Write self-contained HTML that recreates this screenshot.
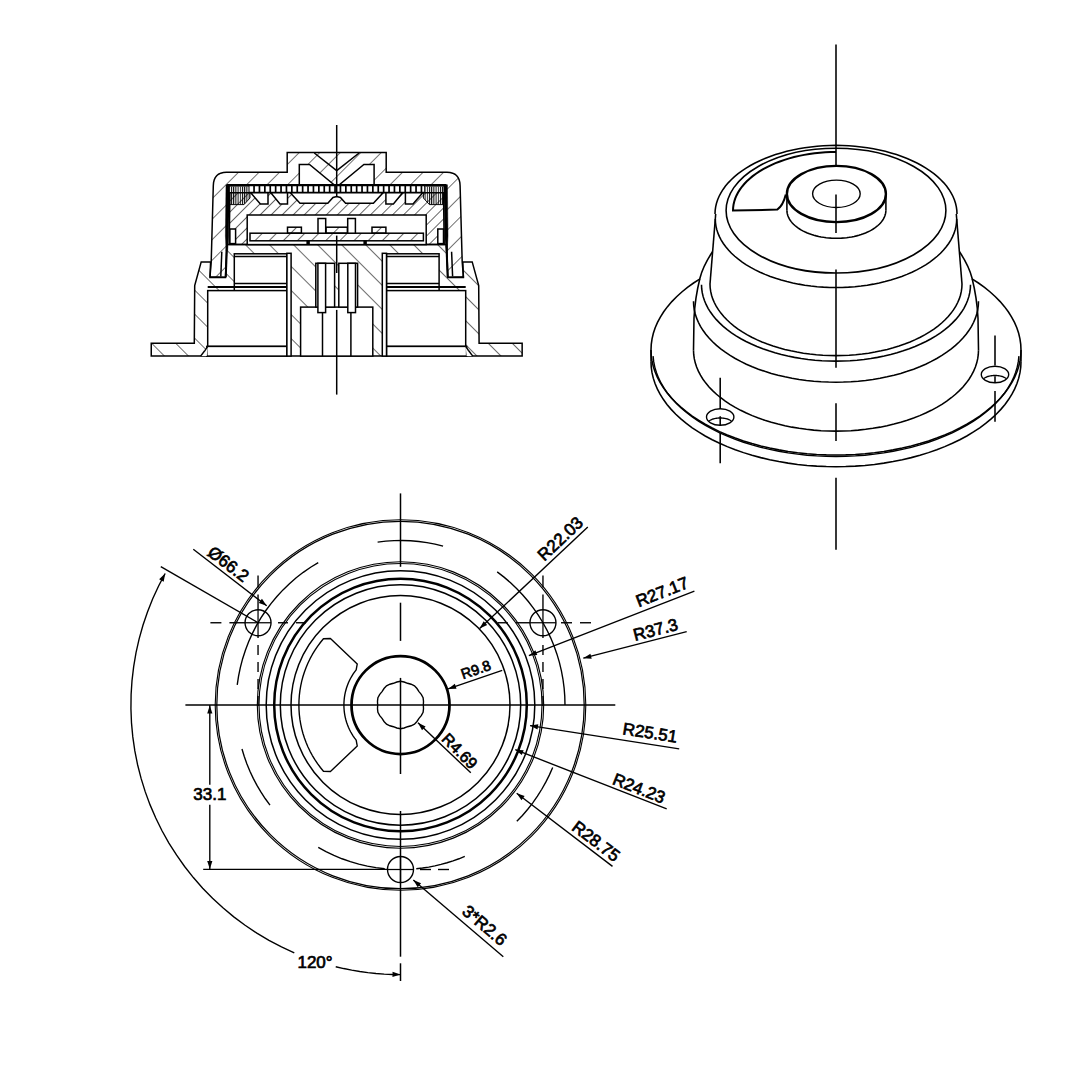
<!DOCTYPE html>
<html><head><meta charset="utf-8"><style>
html,body{margin:0;padding:0;background:#fff;}
svg{display:block;}
text{font-family:"Liberation Sans",sans-serif;fill:#000;stroke:#000;stroke-width:0.7px;}
</style></head><body>
<svg width="1080" height="1080" viewBox="0 0 1080 1080">
<defs>
<pattern id="hs1" patternUnits="userSpaceOnUse" width="10" height="10" patternTransform="rotate(45)"><line x1="0" y1="-2" x2="0" y2="12" stroke="#000" stroke-width="1.2"/></pattern>
<pattern id="hs2" patternUnits="userSpaceOnUse" width="7.8" height="10" patternTransform="rotate(45)"><line x1="0" y1="-2" x2="0" y2="12" stroke="#000" stroke-width="1.2"/></pattern>
<pattern id="hb1" patternUnits="userSpaceOnUse" width="17" height="10" patternTransform="rotate(-45)"><line x1="0" y1="-2" x2="0" y2="12" stroke="#000" stroke-width="1.15"/></pattern>
<pattern id="hb2" patternUnits="userSpaceOnUse" width="11" height="10" patternTransform="rotate(-45)"><line x1="0" y1="-2" x2="0" y2="12" stroke="#000" stroke-width="1.2"/></pattern>
<pattern id="hs3" patternUnits="userSpaceOnUse" width="14.5" height="10" patternTransform="rotate(45)"><line x1="0" y1="-2" x2="0" y2="12" stroke="#000" stroke-width="1.1"/></pattern>
<pattern id="vl" patternUnits="userSpaceOnUse" width="2.2" height="10"><line x1="0.5" y1="-2" x2="0.5" y2="12" stroke="#000" stroke-width="1.0"/></pattern>
</defs>
<rect width="1080" height="1080" fill="#fff"/>
<g stroke="#000" fill="none" stroke-linecap="butt">
<g id="bottom">
<circle cx="400.5" cy="705" r="183.7" fill="none" stroke-width="1.25" />
<circle cx="400.5" cy="705" r="185.3" fill="none" stroke-width="1.12" />
<circle cx="400.5" cy="705" r="141.5" fill="none" stroke-width="1.12" />
<circle cx="400.5" cy="705" r="143.2" fill="none" stroke-width="1.12" />
<circle cx="400.5" cy="705" r="134.3" fill="none" stroke-width="1.5" />
<circle cx="400.5" cy="705" r="126.3" fill="none" stroke-width="2.5" />
<circle cx="400.5" cy="705" r="120.2" fill="none" stroke-width="1.5" />
<circle cx="400.5" cy="705" r="109.5" fill="none" stroke-width="1.5" />
<circle cx="400.5" cy="705" r="49" fill="none" stroke-width="2.75" />
<path d="M423.33,705 L423.51,701.36 L423.1,697.66 L421.26,694.42 L418.97,691.58 L416.98,688.52 L414.47,685.77 L411.08,684.24 L407.56,683.28 L404.14,681.99 L400.5,681.23 L396.86,681.99 L393.44,683.28 L389.92,684.24 L386.53,685.77 L384.02,688.52 L382.03,691.58 L379.74,694.42 L377.9,697.66 L377.49,701.36 L377.67,705 L377.49,708.64 L377.9,712.34 L379.74,715.58 L382.03,718.42 L384.02,721.48 L386.53,724.23 L389.92,725.76 L393.44,726.72 L396.86,728.01 L400.5,728.77 L404.14,728.01 L407.56,726.72 L411.08,725.76 L414.47,724.23 L416.98,721.48 L418.97,718.42 L421.26,715.58 L423.1,712.34 L423.51,708.64 Z" fill="none" stroke-width="1.38" />
<path d="M323.45,638.77 L320.4,642.49 L317.54,646.35 L314.85,650.34 L312.36,654.46 L310.07,658.68 L307.98,663.02 L306.1,667.44 L304.43,671.95 L302.97,676.53 L301.73,681.18 L300.72,685.88 L299.92,690.62 L299.35,695.4 L299.01,700.19 L298.9,705 L299.01,709.81 L299.35,714.6 L299.92,719.38 L300.72,724.12 L301.73,728.82 L302.97,733.47 L304.43,738.05 L306.1,742.56 L307.98,746.98 L310.07,751.32 L312.36,755.54 L314.85,759.66 L317.54,763.65 L320.4,767.51 L323.45,771.23 L330.43,771.5 L357.27,746.03 L356.17,740.19 L354.64,738.17 L353.2,736.09 L351.86,733.94 L350.61,731.74 L349.47,729.48 L348.42,727.17 L347.48,724.82 L346.65,722.43 L345.93,720.01 L345.31,717.55 L344.8,715.07 L344.41,712.57 L344.13,710.06 L343.96,707.53 L343.9,705 L343.96,702.47 L344.13,699.94 L344.41,697.43 L344.8,694.93 L345.31,692.45 L345.93,689.99 L346.65,687.57 L347.48,685.18 L348.42,682.83 L349.47,680.52 L350.61,678.26 L351.86,676.06 L353.2,673.91 L354.64,671.83 L356.17,669.81 L357.27,663.97 L330.43,638.5 Z" fill="none" stroke-width="1.38" stroke-linejoin="round"/>
<path d="M565,705 L564.77,696.39 L564.1,687.81 L562.97,679.27 L561.41,670.8 L559.39,662.42 L556.95,654.17 L554.07,646.05 L550.78,638.09 L547.07,630.32 L542.96,622.75 L538.46,615.41 L533.58,608.31 L528.34,601.48 L522.75,594.93 L516.82,588.68 L510.57,582.75 L504.02,577.16 L497.19,571.92" fill="none" stroke-width="1.38" />
<path d="M443.08,546.11 L435.05,544.17 L426.94,542.64 L418.77,541.52 L410.54,540.81 L402.29,540.51 L394.04,540.63 L385.81,541.16 L377.61,542.1" fill="none" stroke-width="1.38" />
<path d="M318.25,562.54 L310.62,567.22 L303.26,572.31 L296.19,577.8 L289.43,583.66 L282.99,589.88 L276.91,596.44 L271.18,603.32 L265.85,610.51 L260.91,617.97 L256.38,625.69 L252.28,633.65 L248.62,641.81 L245.41,650.17 L242.65,658.68 L240.37,667.34 L238.56,676.1 L237.23,684.95" fill="none" stroke-width="1.38" />
<path d="M241.98,748.96 L244.27,756.52 L246.93,763.95 L249.93,771.25 L253.28,778.4 L256.97,785.38 L261,792.17 L265.34,798.76 L269.99,805.14" fill="none" stroke-width="1.38" />
<path d="M318.25,847.46 L325.98,851.65 L333.92,855.42 L342.05,858.77 L350.35,861.67 L358.79,864.12 L367.35,866.13 L376.01,867.67 L384.73,868.74" fill="none" stroke-width="1.38" />
<path d="M416.27,868.74 L422.51,868.02 L428.71,867.06 L434.88,865.87 L440.99,864.44 L447.05,862.78 L453.04,860.88 L458.95,858.77 L464.78,856.42" fill="none" stroke-width="1.38" />
<path d="M516.82,821.32 L522.43,815.42 L527.75,809.25 L532.76,802.82 L537.44,796.15 L541.78,789.26 L545.78,782.16 L549.42,774.88 L552.7,767.42" fill="none" stroke-width="1.38" />
<circle cx="258.04" cy="622.75" r="13" fill="none" stroke-width="1.38" />
<line x1="245.04" y1="622.75" x2="271.04" y2="622.75" stroke-width="1.25" />
<line x1="258.04" y1="609.75" x2="258.04" y2="635.75" stroke-width="1.25" />
<circle cx="542.96" cy="622.75" r="13" fill="none" stroke-width="1.38" />
<line x1="529.96" y1="622.75" x2="555.96" y2="622.75" stroke-width="1.25" />
<line x1="542.96" y1="609.75" x2="542.96" y2="635.75" stroke-width="1.25" />
<circle cx="400.5" cy="869.5" r="13" fill="none" stroke-width="1.38" />
<line x1="387.5" y1="869.5" x2="413.5" y2="869.5" stroke-width="1.25" />
<line x1="400.5" y1="856.5" x2="400.5" y2="882.5" stroke-width="1.25" />
<line x1="210.4" y1="622.75" x2="221.4" y2="622.75" stroke-width="1.38" />
<line x1="229.4" y1="622.75" x2="245.04" y2="622.75" stroke-width="1.38" />
<line x1="306" y1="622.75" x2="296" y2="622.75" stroke-width="1.38" />
<line x1="288" y1="622.75" x2="278" y2="622.75" stroke-width="1.38" />
<line x1="258.04" y1="575.6" x2="258.04" y2="587.6" stroke-width="1.38" />
<line x1="258.04" y1="594.6" x2="258.04" y2="609.75" stroke-width="1.38" />
<line x1="258.04" y1="706" x2="258.04" y2="696" stroke-width="1.38" />
<line x1="258.04" y1="689" x2="258.04" y2="679" stroke-width="1.38" />
<line x1="258.04" y1="672" x2="258.04" y2="662" stroke-width="1.38" />
<line x1="258.04" y1="655" x2="258.04" y2="645" stroke-width="1.38" />
<line x1="258.04" y1="638" x2="258.04" y2="635.75" stroke-width="1.38" />
<line x1="497.8" y1="622.75" x2="507.8" y2="622.75" stroke-width="1.38" />
<line x1="515.8" y1="622.75" x2="529.96" y2="622.75" stroke-width="1.38" />
<line x1="591" y1="622.75" x2="580" y2="622.75" stroke-width="1.38" />
<line x1="572" y1="622.75" x2="561" y2="622.75" stroke-width="1.38" />
<line x1="542.96" y1="575.6" x2="542.96" y2="587.6" stroke-width="1.38" />
<line x1="542.96" y1="594.6" x2="542.96" y2="609.75" stroke-width="1.38" />
<line x1="542.96" y1="706" x2="542.96" y2="696" stroke-width="1.38" />
<line x1="542.96" y1="689" x2="542.96" y2="679" stroke-width="1.38" />
<line x1="542.96" y1="672" x2="542.96" y2="662" stroke-width="1.38" />
<line x1="542.96" y1="655" x2="542.96" y2="645" stroke-width="1.38" />
<line x1="542.96" y1="638" x2="542.96" y2="635.75" stroke-width="1.38" />
<line x1="449" y1="869.5" x2="438" y2="869.5" stroke-width="1.38" />
<line x1="431" y1="869.5" x2="420" y2="869.5" stroke-width="1.38" />
<line x1="185.4" y1="705" x2="615.3" y2="705" stroke-width="1.5" />
<line x1="400.5" y1="493.4" x2="400.5" y2="566.8" stroke-width="1.5" />
<line x1="400.5" y1="602.7" x2="400.5" y2="640.9" stroke-width="1.5" />
<line x1="400.5" y1="677.9" x2="400.5" y2="774" stroke-width="1.5" />
<line x1="400.5" y1="811" x2="400.5" y2="956.7" stroke-width="1.5" />
<line x1="400.5" y1="963.3" x2="400.5" y2="981" stroke-width="1.5" />
<line x1="203.2" y1="869.4" x2="387.5" y2="869.4" stroke-width="1.38" />
<line x1="209.8" y1="705" x2="209.8" y2="784.7" stroke-width="1.38" />
<line x1="209.8" y1="804.8" x2="209.8" y2="869.4" stroke-width="1.38" />
<path d="M209.8,705.5 L212.4,713.5 L207.2,713.5 Z" fill="#000" stroke="none"/>
<path d="M209.8,868.9 L207.2,860.9 L212.4,860.9 Z" fill="#000" stroke="none"/>
<text transform="translate(209.8,794.7) rotate(0)" font-size="17" text-anchor="middle" dominant-baseline="central" font-weight="normal" >33.1</text>
<path d="M165.16,573.47 L158.6,585.97 L152.7,598.79 L147.48,611.91 L142.96,625.28 L139.14,638.87 L136.03,652.63 L133.66,666.55 L132.01,680.57 L131.1,694.65 L130.93,708.76 L131.49,722.87 L132.8,736.92 L134.83,750.89 L137.6,764.73 L141.09,778.41 L145.28,791.88 L150.18,805.12 L155.76,818.08 L162.02,830.74 L168.92,843.05 L176.47,854.98 L184.62,866.5 L193.37,877.57 L202.69,888.18 L212.54,898.28 L222.92,907.85 L233.78,916.87 L245.09,925.3 L256.84,933.13 L268.97,940.34 L281.47,946.9 L294.29,952.8" fill="none" stroke-width="1.38" />
<path d="M335.73,966.71 L343.7,968.55 L351.72,970.15 L359.78,971.51 L367.88,972.62 L376.01,973.49 L384.16,974.1 L392.33,974.48 L400.5,974.6" fill="none" stroke-width="1.38" />
<path d="M165.16,573.47 L163.69,581.75 L159.1,579.31 Z" fill="#000" stroke="none"/>
<path d="M400.5,974.6 L392.46,977.06 L392.55,971.86 Z" fill="#000" stroke="none"/>
<line x1="160.8" y1="566.7" x2="258.04" y2="622.75" stroke-width="1.38" />
<text transform="translate(315,962) rotate(0)" font-size="17" text-anchor="middle" dominant-baseline="central" font-weight="normal" >120°</text>
<line x1="587.8" y1="527.1" x2="479.6" y2="628.6" stroke-width="1.38" />
<path d="M479.6,628.6 L483.66,621.23 L487.21,625.02 Z" fill="#000" stroke="none"/>
<line x1="694.4" y1="591.1" x2="528.9" y2="655.6" stroke-width="1.38" />
<path d="M528.9,655.6 L535.41,650.27 L537.3,655.12 Z" fill="#000" stroke="none"/>
<line x1="686.7" y1="631.6" x2="583.3" y2="658.2" stroke-width="1.38" />
<path d="M583.3,658.2 L590.4,653.69 L591.7,658.72 Z" fill="#000" stroke="none"/>
<line x1="502.2" y1="670.4" x2="448.1" y2="688.9" stroke-width="1.38" />
<path d="M448.1,688.9 L454.83,683.85 L456.51,688.77 Z" fill="#000" stroke="none"/>
<line x1="470.8" y1="772.8" x2="418" y2="722.8" stroke-width="1.38" />
<path d="M418,722.8 L425.6,726.41 L422.02,730.19 Z" fill="#000" stroke="none"/>
<line x1="679.2" y1="748.9" x2="530" y2="725.6" stroke-width="1.38" />
<path d="M530,725.6 L538.31,724.27 L537.5,729.4 Z" fill="#000" stroke="none"/>
<line x1="666.7" y1="808.9" x2="515.3" y2="749.7" stroke-width="1.38" />
<path d="M515.3,749.7 L523.7,750.19 L521.8,755.03 Z" fill="#000" stroke="none"/>
<line x1="612.5" y1="866.4" x2="516.7" y2="793.3" stroke-width="1.38" />
<path d="M516.7,793.3 L524.64,796.09 L521.48,800.22 Z" fill="#000" stroke="none"/>
<line x1="503.3" y1="956.7" x2="413.3" y2="880" stroke-width="1.38" />
<path d="M413.3,880 L421.08,883.21 L417.7,887.17 Z" fill="#000" stroke="none"/>
<line x1="193.3" y1="549.2" x2="266.7" y2="605.8" stroke-width="1.38" />
<path d="M266.7,605.8 L258.78,602.97 L261.95,598.86 Z" fill="#000" stroke="none"/>
<text transform="translate(560.5,538.9) rotate(-43.3)" font-size="17" text-anchor="middle" dominant-baseline="central" font-weight="normal" >R22.03</text>
<text transform="translate(662.2,592.2) rotate(-21.3)" font-size="17" text-anchor="middle" dominant-baseline="central" font-weight="normal" >R27.17</text>
<text transform="translate(655.6,630) rotate(-14.4)" font-size="17" text-anchor="middle" dominant-baseline="central" font-weight="normal" >R37.3</text>
<text transform="translate(475.9,669.6) rotate(-18.7)" font-size="14.5" text-anchor="middle" dominant-baseline="central" font-weight="normal" >R9.8</text>
<text transform="translate(459.7,751.1) rotate(45.5)" font-size="16" text-anchor="middle" dominant-baseline="central" font-weight="normal" >R4.69</text>
<text transform="translate(650,733) rotate(8.9)" font-size="17" text-anchor="middle" dominant-baseline="central" font-weight="normal" >R25.51</text>
<text transform="translate(638.9,788.6) rotate(21.4)" font-size="17" text-anchor="middle" dominant-baseline="central" font-weight="normal" >R24.23</text>
<text transform="translate(595.8,841.4) rotate(37.3)" font-size="17" text-anchor="middle" dominant-baseline="central" font-weight="normal" >R28.75</text>
<text transform="translate(484.4,925.6) rotate(40.4)" font-size="17" text-anchor="middle" dominant-baseline="central" font-weight="normal" >3*R2.6</text>
<text transform="translate(228.3,564.2) rotate(37.7)" font-size="17" text-anchor="middle" dominant-baseline="central" font-weight="normal" >Ø66.2</text>
</g>
<g id="iso">
<path d="M651,361.7 L651.25,367.2 L652.01,372.68 L653.28,378.13 L655.04,383.53 L657.3,388.88 L660.05,394.15 L663.29,399.33 L666.99,404.41 L671.16,409.37 L675.79,414.2 L680.85,418.89 L686.33,423.42 L692.23,427.78 L698.52,431.96 L705.19,435.95 L712.21,439.73 L719.58,443.3 L727.26,446.65 L735.24,449.76 L743.5,452.63 L752.01,455.26 L760.75,457.62 L769.7,459.73 L778.83,461.56 L788.12,463.12 L797.54,464.41 L807.06,465.41 L816.66,466.12 L826.32,466.56 L836,466.7 L845.68,466.56 L855.34,466.12 L864.94,465.41 L874.46,464.41 L883.88,463.12 L893.17,461.56 L902.3,459.73 L911.25,457.62 L919.99,455.26 L928.5,452.63 L936.76,449.76 L944.74,446.65 L952.42,443.3 L959.79,439.73 L966.81,435.95 L973.48,431.96 L979.77,427.78 L985.67,423.42 L991.15,418.89 L996.21,414.2 L1000.84,409.37 L1005.01,404.41 L1008.71,399.33 L1011.95,394.15 L1014.7,388.88 L1016.96,383.53 L1018.72,378.13 L1019.99,372.68 L1020.75,367.2 L1021,361.7" fill="none" stroke-width="1.56" />
<line x1="651" y1="350" x2="651" y2="361.7" stroke-width="1.56" />
<line x1="1021" y1="350" x2="1021" y2="361.7" stroke-width="1.56" />
<path d="M651,350 L651.25,355.5 L652.01,360.98 L653.28,366.43 L655.04,371.83 L657.3,377.18 L660.05,382.45 L663.29,387.63 L666.99,392.71 L671.16,397.67 L675.79,402.5 L680.85,407.19 L686.33,411.72 L692.23,416.08 L698.52,420.26 L705.19,424.25 L712.21,428.03 L719.58,431.6 L727.26,434.95 L735.24,438.06 L743.5,440.93 L752.01,443.56 L760.75,445.92 L769.7,448.03 L778.83,449.86 L788.12,451.42 L797.54,452.71 L807.06,453.71 L816.66,454.42 L826.32,454.86 L836,455 L845.68,454.86 L855.34,454.42 L864.94,453.71 L874.46,452.71 L883.88,451.42 L893.17,449.86 L902.3,448.03 L911.25,445.92 L919.99,443.56 L928.5,440.93 L936.76,438.06 L944.74,434.95 L952.42,431.6 L959.79,428.03 L966.81,424.25 L973.48,420.26 L979.77,416.08 L985.67,411.72 L991.15,407.19 L996.21,402.5 L1000.84,397.67 L1005.01,392.71 L1008.71,387.63 L1011.95,382.45 L1014.7,377.18 L1016.96,371.83 L1018.72,366.43 L1019.99,360.98 L1020.75,355.5 L1021,350" fill="none" stroke-width="1.56" />
<path d="M700.04,278.79 L693.56,283 L687.48,287.4 L681.82,291.97 L676.6,296.71 L671.83,301.6 L667.52,306.62 L663.7,311.77 L660.36,317.03 L657.51,322.38 L655.18,327.81 L653.35,333.3 L652.05,338.84 L651.26,344.41 L651,350" fill="none" stroke-width="1.56" />
<path d="M1021,350 L1020.74,344.41 L1019.95,338.84 L1018.65,333.3 L1016.82,327.81 L1014.49,322.38 L1011.64,317.03 L1008.3,311.77 L1004.48,306.62 L1000.17,301.6 L995.4,296.71 L990.18,291.97 L984.52,287.4 L978.44,283 L971.96,278.79" fill="none" stroke-width="1.56" />
<path d="M653.11,356.13 L653.71,361.63 L654.81,367.1 L656.43,372.53 L658.54,377.9 L661.16,383.21 L664.26,388.42 L667.85,393.54 L671.91,398.54 L676.43,403.41 L681.39,408.14 L686.79,412.71 L692.61,417.12 L698.83,421.34 L705.44,425.37 L712.41,429.2 L719.73,432.81 L727.37,436.19 L735.32,439.34 L743.55,442.25 L752.04,444.91 L760.76,447.3 L769.7,449.43 L778.82,451.29 L788.1,452.87 L797.52,454.18 L807.05,455.19 L816.65,455.92 L826.31,456.35 L836,456.5 L845.69,456.35 L855.35,455.92 L864.95,455.19 L874.48,454.18 L883.9,452.87 L893.18,451.29 L902.3,449.43 L911.24,447.3 L919.96,444.91 L928.45,442.25 L936.68,439.34 L944.63,436.19 L952.27,432.81 L959.59,429.2 L966.56,425.37 L973.17,421.34 L979.39,417.12 L985.21,412.71 L990.61,408.14 L995.57,403.41 L1000.09,398.54 L1004.15,393.54 L1007.74,388.42 L1010.84,383.21 L1013.46,377.9 L1015.57,372.53 L1017.19,367.1 L1018.29,361.63 L1018.89,356.13" fill="none" stroke-width="1.38" />
<path d="M693.5,350.2 L693.7,354.43 L694.28,358.66 L695.25,362.86 L696.61,367.02 L698.36,371.14 L700.47,375.2 L702.96,379.19 L705.82,383.1 L709.03,386.93 L712.59,390.65 L716.49,394.26 L720.72,397.75 L725.26,401.11 L730.1,404.33 L735.24,407.4 L740.65,410.32 L746.32,413.07 L752.24,415.65 L758.39,418.05 L764.75,420.26 L771.31,422.28 L778.04,424.11 L784.93,425.73 L791.97,427.14 L799.12,428.34 L806.37,429.33 L813.71,430.1 L821.1,430.66 L828.54,430.99 L836,431.1 L843.46,430.99 L850.9,430.66 L858.29,430.1 L865.63,429.33 L872.88,428.34 L880.03,427.14 L887.07,425.73 L893.96,424.11 L900.69,422.28 L907.25,420.26 L913.61,418.05 L919.76,415.65 L925.68,413.07 L931.35,410.32 L936.76,407.4 L941.9,404.33 L946.74,401.11 L951.28,397.75 L955.51,394.26 L959.41,390.65 L962.97,386.93 L966.18,383.1 L969.04,379.19 L971.53,375.2 L973.64,371.14 L975.39,367.02 L976.75,362.86 L977.72,358.66 L978.3,354.43 L978.5,350.2" fill="none" stroke-width="1.56" />
<path d="M712.5,251.7 Q703,266 700,278 Q695,298 694,318 L693.5,350.2" fill="none" stroke-width="1.5625"/>
<path d="M959.5,251.7 Q969,266 972,278 Q977,298 978,318 L978.5,350.2" fill="none" stroke-width="1.5625"/>
<path d="M693.5,301.3 L693.7,305.53 L694.28,309.76 L695.25,313.96 L696.61,318.12 L698.36,322.24 L700.47,326.3 L702.96,330.29 L705.82,334.2 L709.03,338.03 L712.59,341.75 L716.49,345.36 L720.72,348.85 L725.26,352.21 L730.1,355.43 L735.24,358.5 L740.65,361.42 L746.32,364.17 L752.24,366.75 L758.39,369.15 L764.75,371.36 L771.31,373.38 L778.04,375.21 L784.93,376.83 L791.97,378.24 L799.12,379.44 L806.37,380.43 L813.71,381.2 L821.1,381.76 L828.54,382.09 L836,382.2 L843.46,382.09 L850.9,381.76 L858.29,381.2 L865.63,380.43 L872.88,379.44 L880.03,378.24 L887.07,376.83 L893.96,375.21 L900.69,373.38 L907.25,371.36 L913.61,369.15 L919.76,366.75 L925.68,364.17 L931.35,361.42 L936.76,358.5 L941.9,355.43 L946.74,352.21 L951.28,348.85 L955.51,345.36 L959.41,341.75 L962.97,338.03 L966.18,334.2 L969.04,330.29 L971.53,326.3 L973.64,322.24 L975.39,318.12 L976.75,313.96 L977.72,309.76 L978.3,305.53 L978.5,301.3" fill="none" stroke-width="1.56" />
<path d="M701.5,284.7 L701.68,288.7 L702.24,292.69 L703.16,296.65 L704.44,300.58 L706.08,304.47 L708.08,308.31 L710.43,312.08 L713.13,315.77 L716.16,319.38 L719.52,322.9 L723.2,326.31 L727.19,329.61 L731.47,332.78 L736.05,335.82 L740.89,338.72 L746,341.48 L751.36,344.07 L756.94,346.51 L762.75,348.77 L768.75,350.86 L774.94,352.77 L781.29,354.49 L787.8,356.03 L794.44,357.36 L801.19,358.5 L808.04,359.43 L814.96,360.16 L821.94,360.68 L828.96,361 L836,361.1 L843.04,361 L850.06,360.68 L857.04,360.16 L863.96,359.43 L870.81,358.5 L877.56,357.36 L884.2,356.03 L890.71,354.49 L897.06,352.77 L903.25,350.86 L909.25,348.77 L915.06,346.51 L920.64,344.07 L926,341.48 L931.11,338.72 L935.95,335.82 L940.53,332.78 L944.81,329.61 L948.8,326.31 L952.48,322.9 L955.84,319.38 L958.87,315.77 L961.57,312.08 L963.92,308.31 L965.92,304.47 L967.56,300.58 L968.84,296.65 L969.76,292.69 L970.32,288.7 L970.5,284.7" fill="none" stroke-width="1.56" />
<path d="M710,284 L710.17,287.75 L710.69,291.48 L711.55,295.2 L712.75,298.89 L714.29,302.53 L716.17,306.13 L718.37,309.66 L720.89,313.12 L723.73,316.51 L726.88,319.8 L730.33,323 L734.06,326.09 L738.08,329.06 L742.36,331.91 L746.9,334.63 L751.69,337.21 L756.71,339.64 L761.94,341.93 L767.38,344.05 L773,346.01 L778.8,347.8 L784.75,349.41 L790.85,350.84 L797.06,352.1 L803.39,353.16 L809.8,354.04 L816.29,354.72 L822.83,355.21 L829.41,355.5 L836,355.6 L842.59,355.5 L849.17,355.21 L855.71,354.72 L862.2,354.04 L868.61,353.16 L874.94,352.1 L881.15,350.84 L887.25,349.41 L893.2,347.8 L899,346.01 L904.62,344.05 L910.06,341.93 L915.29,339.64 L920.31,337.21 L925.1,334.63 L929.64,331.91 L933.92,329.06 L937.94,326.09 L941.67,323 L945.12,319.8 L948.27,316.51 L951.11,313.12 L953.63,309.66 L955.83,306.13 L957.71,302.53 L959.25,298.89 L960.45,295.2 L961.31,291.48 L961.83,287.75 L962,284" fill="none" stroke-width="1.56" />
<line x1="715.7" y1="214" x2="710" y2="284" stroke-width="1.56" />
<line x1="956.3" y1="214" x2="962" y2="284" stroke-width="1.56" />
<path d="M957,214 L956.83,210.41 L956.34,206.83 L955.51,203.27 L954.36,199.74 L952.88,196.25 L951.08,192.8 L948.96,189.42 L946.54,186.1 L943.81,182.86 L940.79,179.7 L937.48,176.64 L933.89,173.68 L930.03,170.83 L925.92,168.1 L921.56,165.49 L916.96,163.02 L912.15,160.69 L907.12,158.5 L901.9,156.47 L896.5,154.59 L890.93,152.88 L885.22,151.33 L879.36,149.96 L873.39,148.76 L867.32,147.74 L861.16,146.9 L854.93,146.24 L848.65,145.78 L842.33,145.49 L836,145.4 L829.67,145.49 L823.35,145.78 L817.07,146.24 L810.84,146.9 L804.68,147.74 L798.61,148.76 L792.64,149.96 L786.78,151.33 L781.07,152.88 L775.5,154.59 L770.1,156.47 L764.88,158.5 L759.85,160.69 L755.04,163.02 L750.44,165.49 L746.08,168.1 L741.97,170.83 L738.11,173.68 L734.52,176.64 L731.21,179.7 L728.19,182.86 L725.46,186.1 L723.04,189.42 L720.92,192.8 L719.12,196.25 L717.64,199.74 L716.49,203.27 L715.66,206.83 L715.17,210.41 L715,214" fill="none" stroke-width="1.56" />
<path d="M715.3,218.9 L715.47,222.49 L715.96,226.07 L716.79,229.63 L717.94,233.16 L719.41,236.65 L721.21,240.1 L723.32,243.48 L725.74,246.8 L728.46,250.04 L731.47,253.2 L734.77,256.26 L738.35,259.22 L742.2,262.07 L746.3,264.8 L750.65,267.41 L755.24,269.88 L760.04,272.21 L765.05,274.4 L770.26,276.43 L775.65,278.31 L781.2,280.02 L786.91,281.57 L792.74,282.94 L798.7,284.14 L804.76,285.16 L810.91,286 L817.12,286.66 L823.38,287.12 L829.68,287.41 L836,287.5 L842.32,287.41 L848.62,287.12 L854.88,286.66 L861.09,286 L867.24,285.16 L873.3,284.14 L879.26,282.94 L885.09,281.57 L890.8,280.02 L896.35,278.31 L901.74,276.43 L906.95,274.4 L911.96,272.21 L916.76,269.88 L921.35,267.41 L925.7,264.8 L929.8,262.07 L933.65,259.22 L937.23,256.26 L940.53,253.2 L943.54,250.04 L946.26,246.8 L948.68,243.48 L950.79,240.1 L952.59,236.65 L954.06,233.16 L955.21,229.63 L956.04,226.07 L956.53,222.49 L956.7,218.9" fill="none" stroke-width="1.56" />
<ellipse cx="836" cy="210.6" rx="109.9" ry="62.4" fill="none" stroke-width="1.56" />
<path d="M836,152 L830.61,152.08 L825.23,152.32 L819.89,152.72 L814.59,153.28 L809.34,154 L804.17,154.87 L799.09,155.89 L794.11,157.07 L789.24,158.39 L784.5,159.85 L779.9,161.45 L775.46,163.19 L771.18,165.06 L767.08,167.05 L763.17,169.16 L759.46,171.39 L755.95,173.72 L752.67,176.16 L749.62,178.68 L746.8,181.3 L744.23,184 L741.9,186.77 L739.84,189.6 L738.04,192.49 L736.51,195.43 L735.25,198.42 L734.27,201.43 L733.56,204.47 L733.14,207.53 L733,210.6 L777.2,209.6 Q783,206 785.8,194.6" fill="none" stroke-width="2.0"/>
<ellipse cx="836.4" cy="194" rx="49.5" ry="28.1" fill="#fff" stroke-width="2.38" />
<path d="M786.9,210.2 L786.97,211.67 L787.17,213.14 L787.51,214.6 L787.98,216.04 L788.59,217.47 L789.32,218.88 L790.19,220.27 L791.18,221.63 L792.3,222.96 L793.53,224.25 L794.89,225.5 L796.35,226.72 L797.93,227.88 L799.61,229 L801.4,230.07 L803.28,231.08 L805.25,232.04 L807.3,232.93 L809.44,233.77 L811.65,234.54 L813.93,235.24 L816.27,235.87 L818.66,236.43 L821.1,236.92 L823.59,237.34 L826.11,237.69 L828.66,237.95 L831.23,238.15 L833.81,238.26 L836.4,238.3 L838.99,238.26 L841.57,238.15 L844.14,237.95 L846.69,237.69 L849.21,237.34 L851.7,236.92 L854.14,236.43 L856.53,235.87 L858.87,235.24 L861.15,234.54 L863.36,233.77 L865.5,232.93 L867.55,232.04 L869.52,231.08 L871.4,230.07 L873.19,229 L874.87,227.88 L876.45,226.72 L877.91,225.5 L879.27,224.25 L880.5,222.96 L881.62,221.63 L882.61,220.27 L883.48,218.88 L884.21,217.47 L884.82,216.04 L885.29,214.6 L885.63,213.14 L885.83,211.67 L885.9,210.2" fill="none" stroke-width="1.56" />
<line x1="786.9" y1="194" x2="786.9" y2="210.2" stroke-width="1.56" />
<line x1="885.9" y1="194" x2="885.9" y2="210.2" stroke-width="1.56" />
<ellipse cx="836.4" cy="193.8" rx="23.8" ry="13.7" fill="none" stroke-width="1.38" />
<ellipse cx="720.2" cy="417" rx="13.7" ry="8.2" fill="none" stroke-width="1.38" />
<path d="M731.24,420.97 L730.91,420.71 L730.56,420.46 L730.17,420.22 L729.76,419.99 L729.32,419.77 L728.86,419.56 L728.37,419.36 L727.86,419.18 L727.33,419 L726.78,418.84 L726.21,418.69 L725.62,418.55 L725.02,418.43 L724.41,418.33 L723.78,418.23 L723.14,418.16 L722.5,418.1 L721.84,418.05 L721.19,418.02 L720.53,418 L719.87,418 L719.21,418.02 L718.56,418.05 L717.9,418.1 L717.26,418.16 L716.62,418.23 L715.99,418.33 L715.38,418.43 L714.78,418.55 L714.19,418.69 L713.62,418.84 L713.07,419 L712.54,419.18 L712.03,419.36 L711.54,419.56 L711.08,419.77 L710.64,419.99 L710.23,420.22 L709.84,420.46 L709.49,420.71 L709.16,420.97" fill="none" stroke-width="1.38" />
<ellipse cx="995" cy="374.5" rx="13.7" ry="8.2" fill="none" stroke-width="1.38" />
<path d="M1006.04,378.47 L1005.71,378.21 L1005.36,377.96 L1004.97,377.72 L1004.56,377.49 L1004.12,377.27 L1003.66,377.06 L1003.17,376.86 L1002.66,376.68 L1002.13,376.5 L1001.58,376.34 L1001.01,376.19 L1000.42,376.05 L999.82,375.93 L999.21,375.83 L998.58,375.73 L997.94,375.66 L997.3,375.6 L996.64,375.55 L995.99,375.52 L995.33,375.5 L994.67,375.5 L994.01,375.52 L993.36,375.55 L992.7,375.6 L992.06,375.66 L991.42,375.73 L990.79,375.83 L990.18,375.93 L989.58,376.05 L988.99,376.19 L988.42,376.34 L987.87,376.5 L987.34,376.68 L986.83,376.86 L986.34,377.06 L985.88,377.27 L985.44,377.49 L985.03,377.72 L984.64,377.96 L984.29,378.21 L983.96,378.47" fill="none" stroke-width="1.38" />
<line x1="836" y1="44.4" x2="836" y2="165.4" stroke-width="1.56" />
<line x1="836" y1="194.6" x2="836" y2="233.1" stroke-width="1.56" />
<line x1="836" y1="269.4" x2="836" y2="367.8" stroke-width="1.56" />
<line x1="836" y1="403.3" x2="836" y2="441.1" stroke-width="1.56" />
<line x1="836" y1="477.8" x2="836" y2="549.8" stroke-width="1.56" />
<line x1="720.2" y1="377.8" x2="720.2" y2="409" stroke-width="1.56" />
<line x1="720.2" y1="416.3" x2="720.2" y2="426" stroke-width="1.56" />
<line x1="720.2" y1="433" x2="720.2" y2="463.3" stroke-width="1.56" />
<line x1="995" y1="335.6" x2="995" y2="365.6" stroke-width="1.56" />
<line x1="995" y1="376.3" x2="995" y2="382.3" stroke-width="1.56" />
<line x1="995" y1="391.1" x2="995" y2="421.7" stroke-width="1.56" />
</g>
<g id="section">
<path d="M226.8,244.6 L225.5,277.5 L210,277.5 L210.6,261.9 L201.2,261.9 L194.7,285.5 L194.3,343.2 L151.25,343.2 L151.25,356.1 L522.15,356.1 L522.15,343.2 L479.1,343.2 L478.7,285.5 L472.2,261.9 L462.8,261.9 L463.4,277.5 L447.9,277.5 L446.6,244.6 Z" fill="url(#hb1)" stroke-width="1.5" />
<rect x="234.3" y="253.8" width="52.6" height="37" fill="#fff" stroke-width="1.5" />
<line x1="234.3" y1="256.6" x2="286.9" y2="256.6" stroke-width="1.5" />
<line x1="234.3" y1="283.4" x2="286.9" y2="283.4" stroke-width="1.5" />
<line x1="207.7" y1="287" x2="286.9" y2="287" stroke-width="1.8" />
<rect x="207.7" y="290.6" width="79.2" height="55.8" fill="#fff" stroke-width="1.5" />
<rect x="206.8" y="346.4" width="80.1" height="9.7" fill="#fff" stroke-width="1.5" />
<path d="M207.7,346.4 L204.7,350.8 L200.6,356.1 L206.8,356.1 Z" fill="#fff" stroke-width="0" />
<line x1="207.7" y1="346.4" x2="204.7" y2="350.8" stroke-width="1.5" />
<line x1="204.7" y1="350.8" x2="200.6" y2="356.1" stroke-width="1.5" />
<rect x="286.9" y="253.3" width="4.2" height="102.8" fill="#fff" stroke-width="1.5" />
<rect x="386.5" y="253.8" width="52.6" height="37" fill="#fff" stroke-width="1.5" />
<line x1="439.1" y1="256.6" x2="386.5" y2="256.6" stroke-width="1.5" />
<line x1="439.1" y1="283.4" x2="386.5" y2="283.4" stroke-width="1.5" />
<line x1="465.7" y1="287" x2="386.5" y2="287" stroke-width="1.8" />
<rect x="386.5" y="290.6" width="79.2" height="55.8" fill="#fff" stroke-width="1.5" />
<rect x="386.5" y="346.4" width="80.1" height="9.7" fill="#fff" stroke-width="1.5" />
<path d="M465.7,346.4 L468.7,350.8 L472.8,356.1 L466.6,356.1 Z" fill="#fff" stroke-width="0" />
<line x1="465.7" y1="346.4" x2="468.7" y2="350.8" stroke-width="1.5" />
<line x1="468.7" y1="350.8" x2="472.8" y2="356.1" stroke-width="1.5" />
<rect x="382.3" y="253.3" width="4.2" height="102.8" fill="#fff" stroke-width="1.5" />
<rect x="300.6" y="307.1" width="72.2" height="49" fill="#fff" stroke-width="1.5" />
<line x1="322.5" y1="312.6" x2="322.5" y2="356.1" stroke-width="1.5" />
<line x1="350.9" y1="312.6" x2="350.9" y2="356.1" stroke-width="1.5" />
<rect x="315.8" y="263.3" width="18.8" height="43.8" fill="#fff" stroke-width="1.5" />
<rect x="338.8" y="263.3" width="18.8" height="43.8" fill="#fff" stroke-width="1.5" />
<rect x="317.9" y="263.3" width="7.7" height="49.3" fill="#fff" stroke-width="1.5" />
<rect x="347.8" y="263.3" width="7.7" height="49.3" fill="#fff" stroke-width="1.5" />
<path d="M336.7,152.5 L287.2,152.5 L287.2,172.2 L226.4,172.2 L223.37,172.48 L220.74,173.16 L218.51,174.25 L216.68,175.75 L215.24,177.65 L214.19,179.96 L213.55,182.68 L213.3,185.8 L211.2,262 L210,276.8 L225.5,277.2 L226.8,240 L227.8,184.7 L445.6,184.7 L446.6,240 L447.9,277.2 L463.4,276.8 L462.2,262 L460.1,185.8 L459.85,182.68 L459.21,179.96 L458.16,177.65 L456.72,175.75 L454.89,174.25 L452.66,173.16 L450.03,172.48 L447,172.2 L386.2,172.2 L386.2,152.5 L336.7,152.5 Z" fill="url(#hs3)" stroke-width="1.5" />
<path d="M299.3,164.4 L309.5,164.4 L334,184.7 L299.3,184.7 Z" fill="#fff" stroke-width="1.5" />
<path d="M374.1,164.4 L363.9,164.4 L339.4,184.7 L374.1,184.7 Z" fill="#fff" stroke-width="1.5" />
<line x1="314.3" y1="153" x2="336.7" y2="170.6" stroke-width="1.5" />
<line x1="359.1" y1="153" x2="336.7" y2="170.6" stroke-width="1.5" />
<path d="M229.9,192.8 L443.5,192.8 L444.2,244.6 L229.2,244.6 Z" fill="url(#hs2)" stroke-width="1.5" />
<path d="M227.8,184.7 L250,184.7 L250,198 L244,204.6 L229.9,204.6 Z" fill="url(#vl)" stroke-width="0.96" />
<path d="M445.6,184.7 L423.4,184.7 L423.4,198 L429.4,204.6 L443.5,204.6 Z" fill="url(#vl)" stroke-width="0.96" />
<path d="M250.7,192.8 L268,192.8 L268,203.9 L260.4,203.9 Z" fill="#fff" stroke-width="1.5" />
<path d="M422.7,192.8 L405.4,192.8 L405.4,203.9 L413,203.9 Z" fill="#fff" stroke-width="1.5" />
<path d="M270.8,192.8 L287.5,192.8 L287.5,203.9 L280,203.9 Z" fill="#fff" stroke-width="1.5" />
<path d="M402.6,192.8 L385.9,192.8 L385.9,203.9 L393.4,203.9 Z" fill="#fff" stroke-width="1.5" />
<path d="M290.3,192.8 L300,203.2 L327.8,203.2 L333,197.5 L336.7,196.5 L336.7,196.5 L340.4,197.5 L345.6,203.2 L373.4,203.2 L383.1,192.8 Z" fill="#fff" stroke-width="1.5" />
<rect x="247.2" y="215" width="179" height="29.6" fill="#fff" stroke-width="1.5" />
<rect x="250" y="233.2" width="173.4" height="7.6" fill="url(#hs1)" stroke-width="1.5" />
<rect x="287.5" y="227.2" width="13.9" height="6" fill="url(#hs1)" stroke-width="1.5" />
<rect x="372" y="227.2" width="13.9" height="6" fill="url(#hs1)" stroke-width="1.5" />
<rect x="326" y="227.2" width="21.4" height="6" fill="url(#hs1)" stroke-width="1.5" />
<rect x="318" y="218.5" width="7.7" height="14.7" fill="#fff" stroke-width="1.5" />
<rect x="347.7" y="218.5" width="7.7" height="14.7" fill="#fff" stroke-width="1.5" />
<rect x="306.8" y="240.8" width="2.8" height="3.8" fill="#000" stroke-width="0.6" />
<rect x="363.8" y="240.8" width="2.8" height="3.8" fill="#000" stroke-width="0.6" />
<rect x="229.9" y="229" width="5.7" height="14.6" fill="#fff" stroke-width="1.5" />
<rect x="437.8" y="229" width="5.7" height="14.6" fill="#fff" stroke-width="1.5" />
<rect x="227.8" y="184.7" width="217.8" height="8.1" fill="#000" stroke-width="0" />
<line x1="249.5" y1="188.9" x2="424" y2="188.9" stroke-width="5.52" stroke="#fff" stroke-dasharray="3.7 1.7"/>
<rect x="229.5" y="186.6" width="19.1" height="5.4" fill="#fff" stroke-width="0" />
<rect x="424.8" y="186.6" width="19.1" height="5.4" fill="#fff" stroke-width="0" />
<rect x="229.5" y="186.6" width="19.1" height="5.4" fill="url(#vl)" stroke-width="0" />
<rect x="424.8" y="186.6" width="19.1" height="5.4" fill="url(#vl)" stroke-width="0" />
<path d="M226,184.7 L229.6,184.7 L228.6,236 L227.6,251 L226.2,251 L225.4,236 Z" fill="#000" stroke-width="0.48" />
<path d="M447.4,184.7 L443.8,184.7 L444.8,236 L445.8,251 L447.2,251 L448,236 Z" fill="#000" stroke-width="0.48" />
<line x1="227" y1="251" x2="226" y2="277" stroke-width="1.5" />
<line x1="446.4" y1="251" x2="447.4" y2="277" stroke-width="1.5" />
<line x1="221.8" y1="251.8" x2="220.8" y2="276.5" stroke-width="1.5" />
<line x1="451.6" y1="251.8" x2="452.6" y2="276.5" stroke-width="1.5" />
<line x1="336.7" y1="125" x2="336.7" y2="196" stroke-width="1.5" />
<line x1="336.7" y1="235.6" x2="336.7" y2="273" stroke-width="1.5" />
<line x1="336.7" y1="309.9" x2="336.7" y2="394.6" stroke-width="1.5" />
</g>
</g>
</svg>
</body></html>
